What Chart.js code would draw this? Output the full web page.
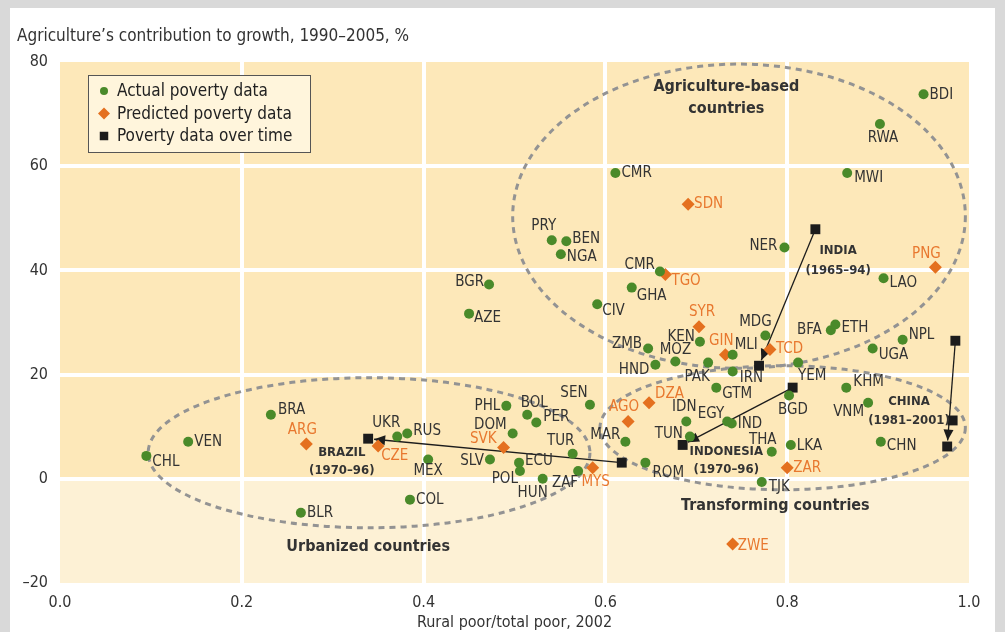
<!DOCTYPE html>
<html>
<head>
<meta charset="utf-8">
<script src="https://cdn.jsdelivr.net/npm/chart.js@4.4.1/dist/chart.umd.min.js"></script>
<style>
  html, body { margin: 0; padding: 0; background: #d9d9d9; }
  body { width: 1005px; height: 632px; overflow: hidden; position: relative; }
  .panel { position: absolute; left: 10px; top: 8px; width: 985px; height: 640px; background: #fff; }
  canvas { position: absolute; left: 0; top: 0; }
</style>
</head>
<body>
<div class="panel"></div>
<canvas id="povertyChart" width="1005" height="632"></canvas>
<script>
// actual poverty data
const actualCodes = ['BDI','RWA','MWI','CMR','NER','LAO','PRY','BEN','NGA','CMR','GHA','BGR','AZE','CIV','ZMB','KEN','HND','MOZ','MLI','PAK','IRN','MDG','GTM','BFA','ETH','UGA','NPL','YEM','BGD','KHM','VNM','CHN','EGY','IND','IDN','TUN','THA','LKA','TJK','ROM','MAR','SEN','PHL','BOL','PER','DOM','TUR','SLV','ECU','POL','HUN','ZAF','MEX','COL','BLR','BRA','VEN','CHL','UKR','RUS'];
const actualX = [0.950,0.902,0.866,0.611,0.797,0.906,0.541,0.557,0.551,0.660,0.629,0.472,0.450,0.591,0.647,0.704,0.655,0.677,0.740,0.713,0.740,0.776,0.722,0.848,0.853,0.894,0.927,0.812,0.802,0.865,0.889,0.903,0.734,0.739,0.689,0.693,0.783,0.804,0.772,0.644,0.622,0.583,0.491,0.514,0.524,0.498,0.564,0.473,0.505,0.506,0.531,0.570,0.405,0.385,0.265,0.232,0.141,0.095,0.371,0.382];
const actualY = [73.8,68.1,58.7,58.7,44.4,38.5,45.8,45.6,43.1,39.8,36.7,37.3,31.7,33.5,25.0,26.3,21.9,22.5,23.8,22.3,20.6,27.5,17.5,28.5,29.6,25.0,26.7,22.3,16.0,17.5,14.6,7.1,11.0,10.6,11.0,8.1,5.2,6.5,-0.6,3.1,7.1,14.2,14.0,12.3,10.8,8.7,4.8,3.7,3.1,1.5,0.0,1.5,3.7,-4.0,-6.5,12.3,7.1,4.4,8.1,8.7];

// predicted poverty data
const predictedCodes = ['SDN','TGO','PNG','SYR','GIN','TCD','DZA','AGO','SVK','MYS','ZAR','ARG','CZE','ZWE'];
const predictedX = [0.691,0.666,0.963,0.703,0.732,0.781,0.648,0.625,0.488,0.586,0.800,0.271,0.350,0.740];
const predictedY = [52.7,39.2,40.6,29.2,23.8,24.8,14.6,11.0,6.0,2.1,2.1,6.7,6.3,-12.5];

// poverty data over time (first point -> last point)
const overTimeNames = ['INDIA','INDONESIA','BRAZIL','CHINA'];
const overTimePeriods = ['(1965–94)','(1970–96)','(1970–96)','(1981–2001)'];
const overTimeX = [[0.831,0.769],[0.806,0.685],[0.618,0.339],[0.985,0.982,0.976]];
const overTimeY = [[47.9,21.7],[17.5,6.5],[3.1,7.7],[26.5,11.2,6.2]];

const xTicks = [0, 0.2, 0.4, 0.6, 0.8, 1.0];
const yTicks = [-20, 0, 20, 40, 60, 80];

// label placement: [dx, dy, align]
const actualLabelPos = [[6,1,'l'],[3,14,'c'],[7,5,'l'],[6,0,'l'],[-7,-1,'r'],[6,5,'l'],[-8,-14,'c'],[6,-2,'l'],[6,3,'l'],[-5,-6,'r'],
  [5,9,'l'],[-5,-2,'r'],[5,4,'l'],[5,7,'l'],[-6,-4,'r'],[-5,-5,'r'],[-6,5,'r'],[0,-11,'c'],[2,-10,'l'],[-11,14,'c'],
  [7,7,'l'],[-10,-13,'c'],[6,6,'l'],[-9,0,'r'],[6,4,'l'],[6,7,'l'],[6,-5,'l'],[0,13,'l'],[4,15,'c'],[7,-6,'l'],
  [-4,9,'r'],[6,4,'l'],[-3,-7,'r'],[6,1,'l'],[-2,-14,'c'],[-7,-2,'r'],[-9,-12,'c'],[6,1,'l'],[7,5,'l'],[7,10,'l'],
  [-5,-7,'r'],[-16,-12,'c'],[-6,0,'r'],[7,-12,'c'],[7,-5,'l'],[-6,-8,'r'],[-12,-13,'c'],[-6,2,'r'],[6,-2,'l'],[-2,8,'r'],
  [-10,14,'c'],[0,12,'r'],[0,12,'c'],[6,0,'l'],[6,0,'l'],[7,-5,'l'],[6,0,'l'],[6,6,'l'],[-11,-13,'c'],[6,-2,'l']];
const predictedLabelPos = [[6,0,'l'],[6,7,'l'],[-9,-13,'c'],[3,-15,'c'],[-4,-14,'c'],[6,0,'l'],[6,-9,'l'],[-4,-14,'c'],[-7,-8,'r'],[3,14,'c'],[6,0,'l'],[-4,-14,'c'],[3,10,'l'],[5,2,'l']];

// group outlines in data units: centre x, centre y, radius x, radius y
const groups = [
  { cx: 0.747, cy: 50.4, rx: 0.249, ry: 29.2 },
  { cx: 0.795, cy: 9.8, rx: 0.201, ry: 11.9 },
  { cx: 0.340, cy: 5.0, rx: 0.243, ry: 14.4 }
];
const groupText = [
  { text: 'Agriculture-based', x: 0.733, y: 75.2 },
  { text: 'countries', x: 0.733, y: 71.0 },
  { text: 'Transforming countries', x: 0.787, y: -5.2 },
  { text: 'Urbanized countries', x: 0.339, y: -13.1 }
];
const countryTextPos = [[0.856, 43.8, 40.0], [0.733, 5.2, 1.7], [0.310, 5.0, 1.5], [0.934, 14.8, 11.2]];

const FONT = "'Liberation Sans Narrow', 'Arial Narrow', 'DejaVu Sans Condensed', sans-serif";
const GREEN = '#4a8a2a', ORANGE = '#e4701f', BLACK = '#1c1c1c';

const toPoints = (xs, ys) => xs.map((x, i) => ({ x: x, y: ys[i] }));
let timePoints = [];
overTimeX.forEach((xs, k) => { timePoints = timePoints.concat(toPoints(xs, overTimeY[k])); });

const bandPlugin = {
  id: 'bands',
  beforeDraw(chart) {
    const { ctx, chartArea: a, scales } = chart;
    const zero = scales.y.getPixelForValue(0);
    ctx.save();
    ctx.fillStyle = '#fde8b9';
    ctx.fillRect(a.left, a.top, a.right - a.left, zero - a.top);
    ctx.fillStyle = '#fdf1d5';
    ctx.fillRect(a.left, zero, a.right - a.left, a.bottom - zero);
    ctx.restore();
  },
  beforeDatasetsDraw(chart) {
    const { ctx, scales } = chart;
    const sx = scales.x, sy = scales.y;
    ctx.save();
    // dashed group outlines
    ctx.strokeStyle = '#939393';
    ctx.lineWidth = 3;
    ctx.setLineDash([6, 5]);
    groups.forEach(g => {
      const cx = sx.getPixelForValue(g.cx), cy = sy.getPixelForValue(g.cy);
      const rx = Math.abs(sx.getPixelForValue(g.cx + g.rx) - cx);
      const ry = Math.abs(sy.getPixelForValue(g.cy + g.ry) - cy);
      ctx.beginPath();
      ctx.ellipse(cx, cy, rx, ry, 0, 0, Math.PI * 2);
      ctx.stroke();
    });
    ctx.setLineDash([]);
    // arrows for series over time
    ctx.strokeStyle = BLACK;
    ctx.fillStyle = BLACK;
    ctx.lineWidth = 1.3;
    overTimeX.forEach((xs, k) => {
      const ys = overTimeY[k];
      const x0 = sx.getPixelForValue(xs[0]), y0 = sy.getPixelForValue(ys[0]);
      const x1 = sx.getPixelForValue(xs[xs.length - 1]), y1 = sy.getPixelForValue(ys[ys.length - 1]);
      const len = Math.hypot(x1 - x0, y1 - y0);
      const ux = (x1 - x0) / len, uy = (y1 - y0) / len;
      const tx = x1 - ux * 6, ty = y1 - uy * 6;
      ctx.beginPath();
      ctx.moveTo(x0, y0);
      ctx.lineTo(tx, ty);
      ctx.stroke();
      const bx = tx - ux * 11, by = ty - uy * 11;
      ctx.beginPath();
      ctx.moveTo(tx, ty);
      ctx.lineTo(bx - uy * 5, by + ux * 5);
      ctx.lineTo(bx + uy * 5, by - ux * 5);
      ctx.closePath();
      ctx.fill();
    });
    ctx.restore();
  },
  afterDatasetsDraw(chart) {
    const { ctx, scales } = chart;
    const sx = scales.x, sy = scales.y;
    ctx.save();
    ctx.textBaseline = 'middle';
    const drawLabels = (dsIndex, codes, pos, color) => {
      const meta = chart.getDatasetMeta(dsIndex);
      ctx.fillStyle = color;
      ctx.font = '15px ' + FONT;
      meta.data.forEach((pt, i) => {
        const p = pos[i];
        ctx.textAlign = p[2] === 'l' ? 'left' : (p[2] === 'r' ? 'right' : 'center');
        ctx.fillText(codes[i], pt.x + p[0], pt.y + p[1]);
      });
    };
    drawLabels(0, actualCodes, actualLabelPos, '#333333');
    drawLabels(1, predictedCodes, predictedLabelPos, '#e8782f');

    ctx.fillStyle = '#333';
    ctx.textAlign = 'center';
    ctx.font = 'bold 16px ' + FONT;
    groupText.forEach(t => ctx.fillText(t.text, sx.getPixelForValue(t.x), sy.getPixelForValue(t.y)));
    ctx.font = 'bold 13px ' + FONT;
    overTimeNames.forEach((n, k) => {
      const c = countryTextPos[k];
      const x = sx.getPixelForValue(c[0]);
      ctx.fillText(n, x, sy.getPixelForValue(c[1]));
      ctx.fillText(overTimePeriods[k], x, sy.getPixelForValue(c[2]));
    });

    // legend box
    ctx.fillStyle = '#fff5dc';
    ctx.fillRect(88, 75, 222, 77);
    ctx.strokeStyle = '#555';
    ctx.lineWidth = 1;
    ctx.strokeRect(88.5, 75.5, 222, 77);
    ctx.textAlign = 'left';
    ctx.font = '17px ' + FONT;
    chart.data.datasets.forEach((ds, i) => {
      const y = 91 + i * 22.5;
      ctx.fillStyle = ds.backgroundColor;
      Chart.helpers.drawPoint(ctx, { pointStyle: ds.pointStyle, radius: ds.legendRadius, rotation: 0, borderWidth: 0 }, 104, y);
      ctx.fillStyle = '#222';
      ctx.fillText(ds.label, 117, y + 1);
    });

    // y axis caption
    ctx.fillStyle = '#333';
    ctx.font = '17px ' + FONT;
    ctx.fillText('Agriculture\u2019s contribution to growth, 1990\u20132005, %', 17, 37);
    ctx.restore();
  }
};

const hideEdge = (edges) => (c) => (c.tick && edges.includes(c.tick.value)) ? 'rgba(0,0,0,0)' : '#ffffff';

new Chart(document.getElementById('povertyChart').getContext('2d'), {
  type: 'scatter',
  data: {
    datasets: [{
      label: 'Actual poverty data',
      data: toPoints(actualX, actualY),
      pointStyle: 'circle',
      pointRadius: 5,
      legendRadius: 4,
      backgroundColor: GREEN,
      borderWidth: 0
    }, {
      label: 'Predicted poverty data',
      data: toPoints(predictedX, predictedY),
      pointStyle: 'rectRot',
      pointRadius: 6.5,
      legendRadius: 6,
      backgroundColor: ORANGE,
      borderWidth: 0
    }, {
      label: 'Poverty data over time',
      data: timePoints,
      pointStyle: 'rect',
      pointRadius: 7,
      legendRadius: 6,
      backgroundColor: BLACK,
      borderWidth: 0
    }]
  },
  options: {
    responsive: false,
    animation: false,
    devicePixelRatio: 1,
    layout: { padding: { left: 10, right: 36, top: 62, bottom: 0 } },
    plugins: { legend: { display: false }, tooltip: { enabled: false } },
    scales: {
      x: {
        type: 'linear',
        min: 0,
        max: 1,
        afterBuildTicks: (s) => { s.ticks = xTicks.map(v => ({ value: v })); },
        afterFit: (s) => { s.height = 49; },
        border: { display: false },
        grid: { color: hideEdge([0, 1]), lineWidth: 4, drawTicks: false },
        ticks: { padding: 10, color: '#333', font: { family: FONT, size: 16 }, callback: v => v.toFixed(1) },
        title: { display: true, text: 'Rural poor/total poor, 2002', color: '#333', font: { family: FONT, size: 16 }, padding: { top: 4, bottom: 0 } }
      },
      y: {
        min: -20,
        max: 80,
        afterBuildTicks: (s) => { s.ticks = yTicks.map(v => ({ value: v })); },
        afterFit: (s) => { s.width = 50; },
        border: { display: false },
        grid: { color: hideEdge([-20, 80]), lineWidth: 4, drawTicks: false },
        ticks: { padding: 12, color: '#333', font: { family: FONT, size: 16 }, callback: v => String(v).replace('-', '\u2013') }
      }
    }
  },
  plugins: [bandPlugin]
});
</script>
</body>
</html>
